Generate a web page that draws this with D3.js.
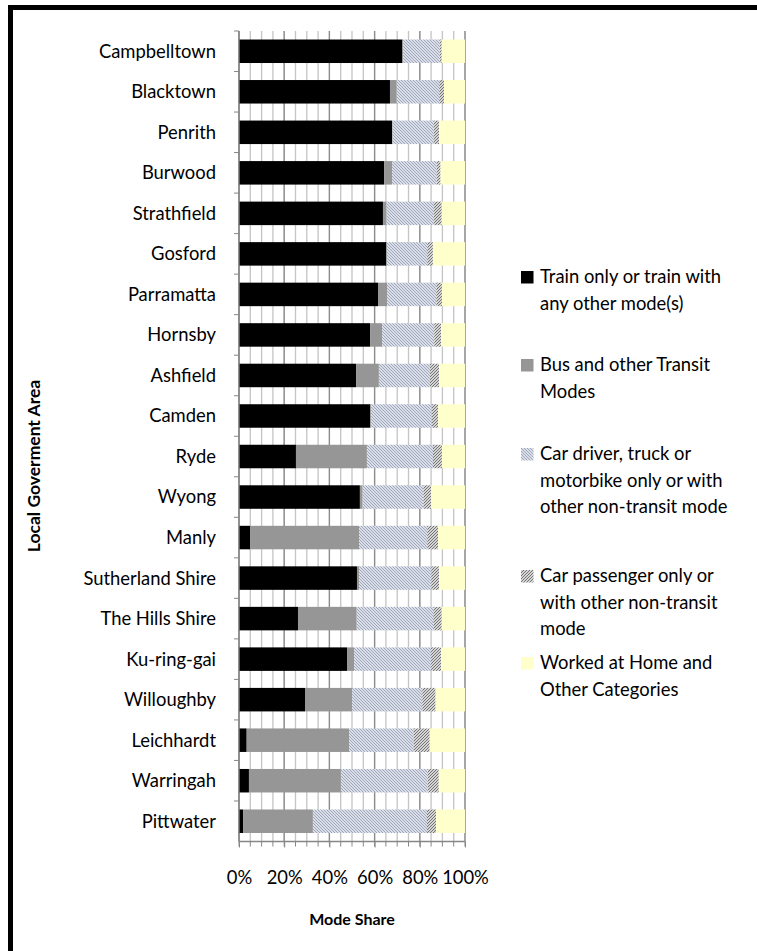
<!DOCTYPE html>
<html>
<head>
<meta charset="utf-8">
<script src="https://cdn.jsdelivr.net/npm/d3@7"></script>
<style>
  body { margin: 0; background: #fff; }
  svg { display: block; font-family: Lato, "Open Sans", sans-serif; }
</style>
</head>
<body>
<div id="vis"></div>
<script>
// values, percent of trips per LGA
const categories = ["Campbelltown", "Blacktown", "Penrith", "Burwood", "Strathfield", "Gosford",
  "Parramatta", "Hornsby", "Ashfield", "Camden", "Ryde", "Wyong", "Manly", "Sutherland Shire",
  "The Hills Shire", "Ku-ring-gai", "Willoughby", "Leichhardt", "Warringah", "Pittwater"];
const train = [72.3, 66.8, 67.7, 64.2, 63.7, 65.2, 61.5, 58.0, 51.8, 58.1, 25.2, 53.5, 4.9, 52.2, 26.1, 47.8, 29.2, 3.4, 4.4, 1.8];
const bus = [0.3, 3.0, 0.3, 3.5, 1.6, 0.2, 4.0, 5.3, 10.1, 0.3, 31.4, 1.2, 48.2, 0.9, 26.0, 3.1, 20.8, 45.3, 40.7, 30.9];
const carDriver = [16.2, 18.8, 18.3, 19.8, 21.0, 17.9, 21.8, 23.1, 22.6, 26.9, 29.2, 26.9, 30.2, 32.0, 33.9, 34.1, 31.1, 28.6, 38.4, 50.5];
const carPassenger = [0.9, 2.1, 2.2, 1.7, 3.4, 2.5, 2.5, 3.0, 4.0, 2.8, 4.0, 3.4, 4.8, 3.4, 3.7, 4.4, 5.9, 7.1, 4.9, 4.0];
const home = [10.3, 9.3, 11.5, 10.8, 10.3, 14.2, 10.2, 10.6, 11.5, 11.9, 10.2, 15.0, 11.9, 11.5, 10.3, 10.6, 13.0, 15.6, 11.6, 12.8];

const seriesNames = [
  ["Train only or train with", "any other mode(s)"],
  ["Bus and other Transit", "Modes"],
  ["Car driver, truck or", "motorbike only or with", "other non-transit mode"],
  ["Car passenger only or", "with other non-transit", "mode"],
  ["Worked at Home and", "Other Categories"]
];
const tickLabels = ["0%", "20%", "40%", "60%", "80%", "100%"];

const width = 757, height = 951;
const plot = { left: 239, right: 465, top: 31, bottom: 841.5 };
const keys = ["train", "bus", "carDriver", "carPassenger", "home"];
const fills = ["#000000", "#969696", "url(#driver)", "url(#passenger)", "#ffffcc"];
const legendTop = [277, 365, 454, 576, 663]; // first-line centres, Excel spacing

const rows = categories.map((name, i) => ({
  name,
  train: train[i], bus: bus[i], carDriver: carDriver[i],
  carPassenger: carPassenger[i], home: home[i]
}));

const svg = d3.select("#vis").append("svg")
  .attr("width", width)
  .attr("height", height)
  .attr("viewBox", [0, 0, width, height]);

const defs = svg.append("defs");

const driver = defs.append("pattern")
  .attr("id", "driver")
  .attr("patternUnits", "userSpaceOnUse")
  .attr("width", 3).attr("height", 3);
driver.append("rect").attr("width", 3).attr("height", 3).attr("fill", "#dadee8");
driver.append("path").attr("d", "M0,0L3,3M-1,2L1,4M2,-1L4,1")
  .attr("stroke", "#a0a7ba").attr("stroke-width", 1);

const passenger = defs.append("pattern")
  .attr("id", "passenger")
  .attr("patternUnits", "userSpaceOnUse")
  .attr("width", 3).attr("height", 3);
passenger.append("rect").attr("width", 3).attr("height", 3).attr("fill", "#ffffff");
passenger.append("path").attr("d", "M0,3L3,0M-1,1L1,-1M2,4L4,2")
  .attr("stroke", "#6c6c6c").attr("stroke-width", 1.1);

// outer chart frame
svg.append("rect")
  .attr("x", 10.5).attr("y", 7.5)
  .attr("width", 900).attr("height", 1100)
  .attr("fill", "none")
  .attr("stroke", "#000")
  .attr("stroke-width", 5);

const x = d3.scaleLinear([0, 100], [plot.left, plot.right]);
const y = d3.scaleBand(categories, [plot.top, plot.bottom])
  .paddingInner(0.42)
  .paddingOuter(0.21);

// gridlines, minor every 4%, major every 20%
const grid = svg.append("g");
grid.selectAll("line.minor")
  .data(x.ticks(25))
  .join("line")
  .attr("class", "minor")
  .attr("x1", d => x(d)).attr("x2", d => x(d))
  .attr("y1", plot.top).attr("y2", plot.bottom)
  .attr("stroke", "#c4c4c4")
  .attr("stroke-width", 1.3);
grid.selectAll("line.major")
  .data(x.ticks(5))
  .join("line")
  .attr("class", "major")
  .attr("x1", d => x(d)).attr("x2", d => x(d))
  .attr("y1", plot.top).attr("y2", plot.bottom)
  .attr("stroke", "#8c8c8c")
  .attr("stroke-width", 1.3);

const stack = d3.stack().keys(keys)(rows);

svg.append("g")
  .selectAll("g")
  .data(stack)
  .join("g")
  .attr("fill", (d, i) => fills[i])
  .selectAll("rect")
  .data(d => d)
  .join("rect")
  .attr("x", d => x(d[0]))
  .attr("y", d => y(d.data.name))
  .attr("width", d => x(d[1]) - x(d[0]))
  .attr("height", y.bandwidth());

// y axis: line plus ticks between categories
const yAxis = svg.append("g");
yAxis.append("line")
  .attr("x1", plot.left).attr("x2", plot.left)
  .attr("y1", plot.top).attr("y2", plot.bottom)
  .attr("stroke", "#868686").attr("stroke-width", 1.3);
yAxis.selectAll("line.tick")
  .data(categories)
  .join("line")
  .attr("class", "tick")
  .attr("x1", plot.left - 5).attr("x2", plot.left)
  .attr("y1", d => y(d) - y.step() * y.paddingInner() / 2)
  .attr("y2", d => y(d) - y.step() * y.paddingInner() / 2)
  .attr("stroke", "#868686");
yAxis.selectAll("text")
  .data(categories)
  .join("text")
  .attr("x", 216)
  .attr("y", d => y(d) + y.bandwidth() / 2)
  .attr("dy", "0.35em")
  .attr("text-anchor", "end")
  .attr("font-size", 18.4)
  .attr("fill", "#000")
  .text(d => d);

// x axis
const xAxis = svg.append("g")
  .attr("transform", `translate(0,${plot.bottom})`);
xAxis.append("line")
  .attr("x1", plot.left).attr("x2", plot.right)
  .attr("stroke", "#868686").attr("stroke-width", 1.3);
xAxis.selectAll("line.minor")
  .data(x.ticks(25))
  .join("line")
  .attr("x1", d => x(d)).attr("x2", d => x(d))
  .attr("y1", 0).attr("y2", 5)
  .attr("stroke", "#868686");
xAxis.call(d3.axisBottom(x)
    .tickValues(x.ticks(5))
    .tickFormat((d, i) => tickLabels[i])
    .tickSize(6)
    .tickPadding(23))
  .call(g => g.select(".domain").remove())
  .call(g => g.selectAll(".tick line").attr("stroke", "#868686"))
  .call(g => g.selectAll(".tick text")
    .attr("font-family", "Lato, sans-serif")
    .attr("font-size", 18.4)
    .attr("fill", "#000"));

// axis titles
svg.append("text")
  .attr("x", (plot.left + plot.right) / 2)
  .attr("y", 925)
  .attr("text-anchor", "middle")
  .attr("font-size", 16)
  .attr("font-weight", "bold")
  .text("Mode Share");

svg.append("text")
  .attr("transform", "translate(40,466) rotate(-90)")
  .attr("text-anchor", "middle")
  .attr("font-size", 17.5)
  .attr("font-weight", "bold")
  .text("Local Goverment Area");

// legend
const legend = svg.append("g")
  .selectAll("g")
  .data(seriesNames)
  .join("g")
  .attr("transform", (d, i) => `translate(521,${legendTop[i]})`);
legend.append("rect")
  .attr("y", -6).attr("width", 12.5).attr("height", 12.5)
  .attr("fill", (d, i) => fills[i]);
legend.selectAll("text")
  .data(d => d)
  .join("text")
  .attr("x", 19)
  .attr("y", (d, j) => j * 26.5)
  .attr("dy", "0.35em")
  .attr("font-size", 18.4)
  .text(d => d);
</script>
</body>
</html>
